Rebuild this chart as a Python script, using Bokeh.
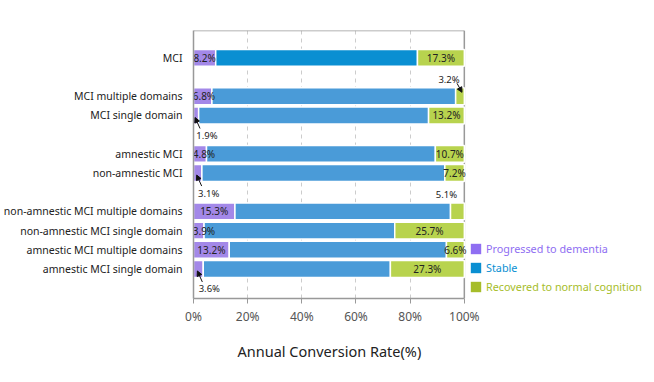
from bokeh.plotting import figure
from bokeh.models import (ColumnDataSource, Range1d, FixedTicker, PrintfTickFormatter,
                          Legend, LegendItem, Arrow, NormalHead, Title)
from bokeh.core.properties import value
from bokeh.embed import file_html
from bokeh.resources import INLINE

# ---------------- data ----------------
groups = [
    ["MCI"],
    ["MCI multiple domains", "MCI single domain"],
    ["amnestic MCI", "non-amnestic MCI"],
    ["non-amnestic MCI multiple domains", "non-amnestic MCI single domain",
     "amnestic MCI multiple domains", "amnestic MCI single domain"],
]
categories = [c for g in groups for c in g]
progressed = [8.2, 6.8, 1.9, 4.8, 3.1, 15.3, 3.9, 13.2, 3.6]
stable = [74.5, 90.0, 84.9, 84.5, 89.7, 79.6, 70.4, 80.2, 69.1]
recovered = [17.3, 3.2, 13.2, 10.7, 7.2, 5.1, 25.7, 6.6, 27.3]
series_names = ["Progressed to dementia", "Stable", "Recovered to normal cognition"]
x_ticks = [0, 20, 40, 60, 80, 100]
x_title = "Annual Conversion Rate(%)"
# values shown outside their bar: (category, series index, side, with arrow)
callouts = [
    ("MCI multiple domains", 2, "above", True),
    ("MCI single domain", 0, "below", True),
    ("non-amnestic MCI", 0, "below", True),
    ("non-amnestic MCI multiple domains", 2, "above", False),
    ("amnestic MCI single domain", 0, "below", True),
]

# ---------------- layout ----------------
FONT = "Noto Sans"
W, H = 654, 378
ML, MT, MB, MR = 191, 30, 80, 0
FRAME_W_100 = 272          # pixels spanned by 0..100 %
FRAME_H = H - MT - MB
FRAME_W = W - ML - MR
X_END = 100.0 * FRAME_W / FRAME_W_100

# row positions (bottom-up, a blank row between groups)
pos = {}
yv = 1
for g in reversed(groups):
    for c in reversed(g):
        pos[c] = yv
        yv += 1
    yv += 1
ys = [pos[c] for c in categories]
y0, y1 = -0.54, 13.43
PX_X = FRAME_W_100 / 100.0
PX_Y = FRAME_H / (y1 - y0)
MIN_LABEL_X = 10.5 / PX_X   # keep inside labels from being cut by the left edge

col_prog = "#a388e8"
col_stab_dark = "#0a8fd2"
col_stab = "#4a9bd8"
col_rec = "#b8d34e"
leg_cols = ["#8f6ef2", "#0a8fd2", "#a6bd2a"]
frame_col = "#999999"

p = figure(width=W, height=H, output_backend="svg", toolbar_location=None,
           x_range=Range1d(0, X_END), y_range=Range1d(y0, y1),
           min_border_left=ML, min_border_right=MR,
           min_border_top=MT, min_border_bottom=MB)
p.outline_line_color = None
p.background_fill_color = "white"
p.border_fill_color = "white"

# plot frame (top and right edges; left/bottom are the axes)
p.segment(x0=[0, 100], y0=[y1, y0], x1=[100, 100], y1=[y1, y1],
          line_color=frame_col, line_width=1.5)

left1 = [0.0] * len(ys)
right1 = progressed
left2 = progressed
right2 = [a + b for a, b in zip(progressed, stable)]
left3 = right2
right3 = [a + b + c for a, b, c in zip(progressed, stable, recovered)]
stab_cols = [col_stab_dark if i == 0 else col_stab for i in range(len(ys))]

src = ColumnDataSource(dict(y=ys, l1=left1, r1=right1, l2=left2, r2=right2,
                            l3=left3, r3=right3, sc=stab_cols))
BH = 0.88
p.hbar(y="y", left="l1", right="r1", height=BH, source=src,
       fill_color=col_prog, line_color="white", line_width=1.5)
p.hbar(y="y", left="l2", right="r2", height=BH, source=src,
       fill_color="sc", line_color="white", line_width=1.5)
p.hbar(y="y", left="l3", right="r3", height=BH, source=src,
       fill_color=col_rec, line_color="white", line_width=1.5)

# inside labels
seg_vals = [progressed, stable, recovered]
seg_left = [left1, left2, left3]
out_set = {(c, s) for c, s, _, _ in callouts}
tx, ty, tt = [], [], []
for s in (0, 2):
    for i, c in enumerate(categories):
        if (c, s) in out_set:
            continue
        tx.append(max(seg_left[s][i] + seg_vals[s][i] / 2, MIN_LABEL_X))
        ty.append(ys[i])
        tt.append(f"{seg_vals[s][i]:.1f}%")
p.text(x=tx, y=ty, text=tt, text_align="center", text_baseline="middle",
       text_font=value(FONT), text_font_size="10px", text_color="#222222")

# callouts
cx, cy, ct = [], [], []
for c, s, side, arrow in callouts:
    i = categories.index(c)
    xc = seg_left[s][i] + seg_vals[s][i] / 2
    yc = ys[i]
    if side == "below":
        lx, ly = xc + 11 / PX_X, yc - 20 / PX_Y
        ax0, ay0, ax1, ay1 = xc + 4 / PX_X, yc - 13 / PX_Y, xc - 1 / PX_X, yc - 2 / PX_Y
    else:
        lx, ly = xc - 11 / PX_X, yc + 17 / PX_Y
        ax0, ay0, ax1, ay1 = xc - 3 / PX_X, yc + 13 / PX_Y, xc + 2 / PX_X, yc + 4 / PX_Y
    cx.append(lx); cy.append(ly); ct.append(f"{seg_vals[s][i]:.1f}%")
    if arrow:
        p.add_layout(Arrow(x_start=ax0, y_start=ay0, x_end=ax1, y_end=ay1,
                           line_color="#111111", line_width=1,
                           end=NormalHead(size=5, fill_color="#111111", line_color="#111111")))
p.text(x=cx, y=cy, text=ct, text_align="center", text_baseline="middle",
       text_font=value(FONT), text_font_size="9.5px", text_color="#222222")

# axes
p.xaxis.bounds = (0, 100)
p.xaxis.ticker = FixedTicker(ticks=x_ticks)
p.xaxis.formatter = PrintfTickFormatter(format="%d%%")
p.xaxis.axis_line_color = frame_col
p.xaxis.axis_line_width = 1.5
p.xaxis.major_tick_line_color = frame_col
p.xaxis.major_tick_in = 0
p.xaxis.major_tick_out = 5
p.xaxis.minor_tick_line_color = None
p.xaxis.major_label_text_font = FONT
p.xaxis.major_label_text_font_size = "12px"
p.xaxis.major_label_text_color = "#555555"
p.xaxis.major_label_standoff = 4

# axis title, centred under the 0..100 % span (offset from the frame's left edge)
p.add_layout(Title(text=x_title, align="left", offset=44, vertical_align="middle",
                   standoff=24, text_font=FONT, text_font_size="14.5px",
                   text_font_style="normal", text_color="#222222"), "below")

p.yaxis.ticker = FixedTicker(ticks=ys)
p.yaxis.major_label_overrides = {y: c for y, c in zip(ys, categories)}
p.yaxis.axis_line_color = frame_col
p.yaxis.axis_line_width = 1.5
p.yaxis.major_tick_line_color = None
p.yaxis.minor_tick_line_color = None
p.yaxis.major_label_text_font = FONT
p.yaxis.major_label_text_font_size = "10.5px"
p.yaxis.major_label_text_color = "#222222"
p.yaxis.major_label_standoff = 5

p.xgrid.ticker = FixedTicker(ticks=x_ticks[1:-1])
p.xgrid.grid_line_color = "#cccccc"
p.xgrid.grid_line_dash = "4 4"
p.ygrid.grid_line_color = None

# legend (one per entry so each text gets its own colour)
for k, (name, col) in enumerate(zip(series_names, leg_cols)):
    r = p.hbar(y=[-1000], left=[0], right=[1], height=1,
               fill_color=col, line_color=None)
    lg = Legend(items=[LegendItem(label=name, renderers=[r])],
                location=(FRAME_W_100 + 4, 4 + (2 - k) * 19),
                background_fill_alpha=0, border_line_color=None,
                padding=0, margin=0, glyph_width=13, glyph_height=13,
                label_standoff=4, label_text_font=FONT, label_text_font_size="10.8px",
                label_text_color=col, label_height=13)
    p.add_layout(lg, "center")

open("out.html", "w").write(file_html(p, INLINE))
